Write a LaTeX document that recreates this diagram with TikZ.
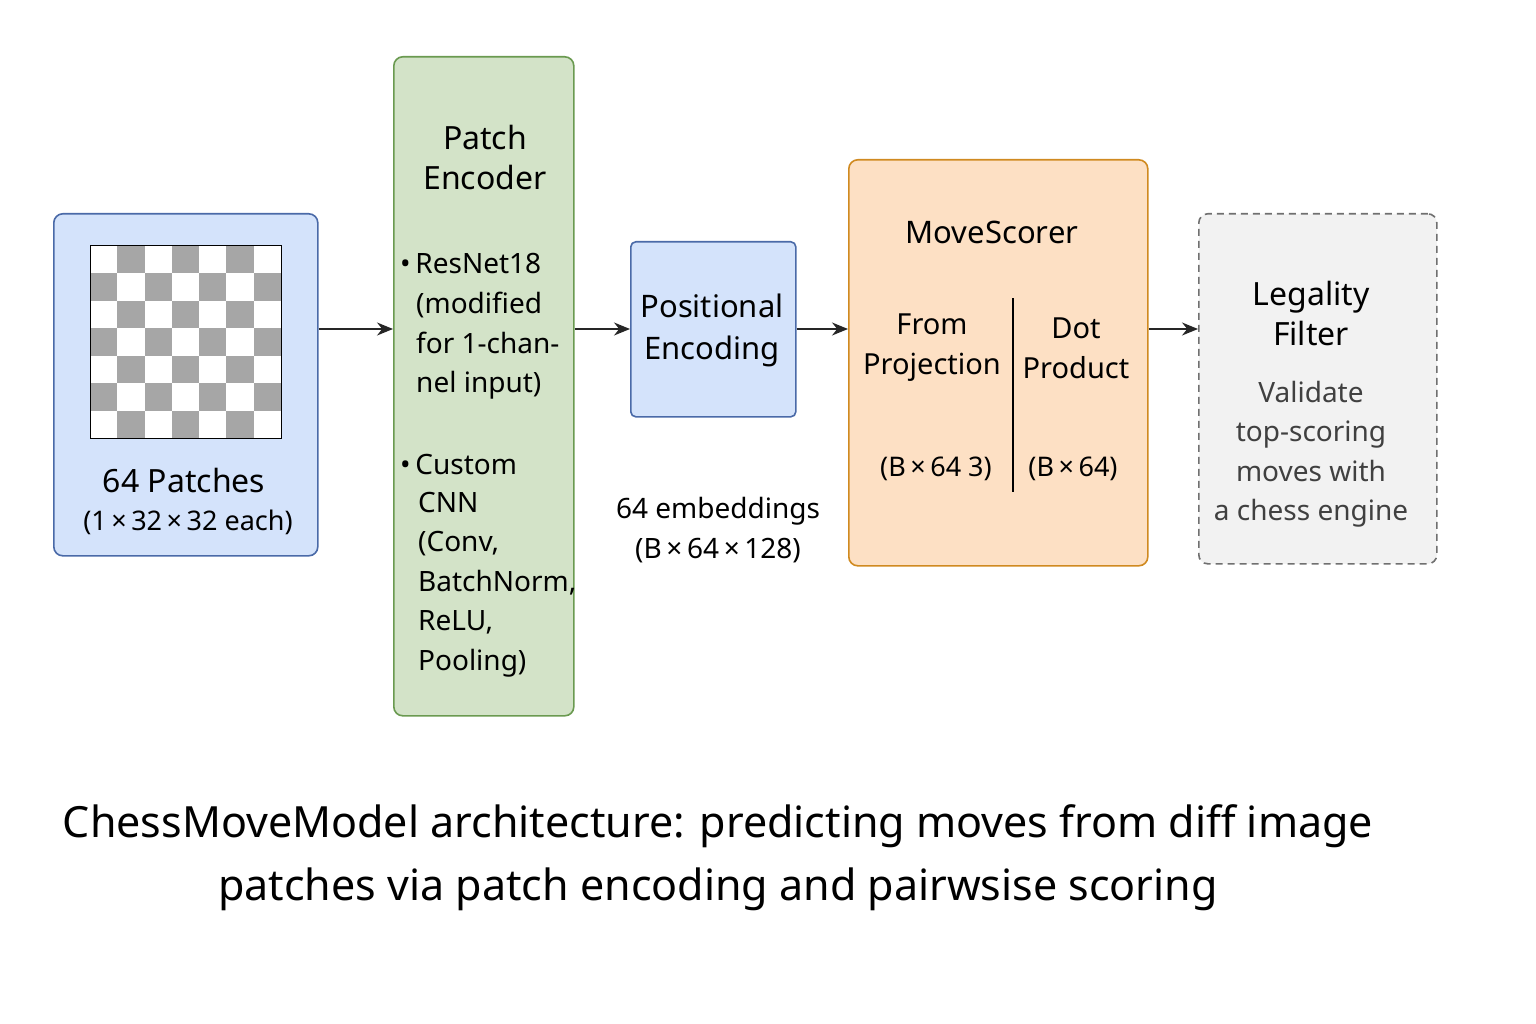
\documentclass[tikz,border=0pt]{standalone}
\usepackage{fontspec}
\setmainfont{Noto Sans}
\usetikzlibrary{arrows.meta}
\definecolor{bfill}{HTML}{D4E3FB}\definecolor{bdraw}{HTML}{4A6AA8}
\definecolor{gfill}{HTML}{D3E3C8}\definecolor{gdraw}{HTML}{6A9A50}
\definecolor{ofill}{HTML}{FDE0C4}\definecolor{odraw}{HTML}{D08A20}
\definecolor{lfill}{HTML}{F2F2F2}\definecolor{ldraw}{HTML}{707070}
\definecolor{sq}{HTML}{A6A6A6}
\begin{document}
\begin{tikzpicture}[x=1pt,y=-1pt,
 box/.style={rounded corners=9pt,line width=1.6pt},
 arr/.style={-{Stealth[length=16pt,width=13pt]},line width=1.6pt,draw=black!85},
 t/.style={font=\fontsize{31}{37}\selectfont,align=center,inner sep=0pt},
 s/.style={font=\fontsize{28}{39.5}\selectfont,align=left,inner sep=0pt,anchor=north west}]
\useasboundingbox (0,0) rectangle (1536,1024);
\fill[white] (0,0) rectangle (1536,1024);
\node[box,draw=bdraw,fill=bfill,minimum width=264pt,minimum height=342pt,anchor=north west] (p) at (53,213) {};
\node[box,draw=gdraw,fill=gfill,minimum width=180pt,minimum height=659pt,anchor=north west] (e) at (393,56) {};
\node[box,draw=bdraw,fill=bfill,minimum width=165pt,minimum height=175pt,anchor=north west,rounded corners=5pt] (pe) at (630,241) {};
\node[box,draw=odraw,fill=ofill,minimum width=299pt,minimum height=406pt,anchor=north west] (m) at (848,159) {};
\node[box,draw=ldraw,fill=lfill,dashed,dash pattern=on 7pt off 5pt,minimum width=238pt,minimum height=350pt,anchor=north west] (l) at (1198,213) {};
\coordinate (y0) at (0,329);
% checkerboard
\fill[white] (90,246) rectangle (281,438);
\foreach \i in {0,...,6}{\foreach \j in {0,...,6}{
 \pgfmathtruncatemacro\k{mod(\i+\j,2)}
 \ifnum\k=1 \fill[sq] ({90+\i*191/7},{246+\j*192/7}) rectangle ++(191/7,192/7);\fi}}
\draw[line width=1pt] (90,246) rectangle (281,438);
\node[t,font=\fontsize{32}{36}\selectfont] (pt) at (184,480) {64 Patches};
\node[t,font=\fontsize{27}{30}\selectfont] (pt2) at (188,522) {(1\,×\,32\,×\,32 each)};
\node[t,font=\fontsize{32}{40}\selectfont] (et) at (485,158) {Patch\\Encoder};
\node[s] (b1) at (400,253) {•\,ResNet18};
\node[s] (b1b) at (416,292) {(modified\\for 1-chan-\\nel input)};
\node[s] (b2) at (400,454) {•\,Custom};
\node[s] (b2b) at (418,492) {CNN\\(Conv,\\BatchNorm,\\ReLU,\\Pooling)};
\node[t,font=\fontsize{31}{42}\selectfont] (pet) at (712,330) {Positional\\Encoding};
\node[t,font=\fontsize{28}{40}\selectfont] (emb) at (718,530) {64 embeddings\\(B\,×\,64\,×\,128)};
\node[t] (mt) at (992,232) {MoveScorer};
\node[t,font=\fontsize{29}{40}\selectfont] (fp) at (932,348) {From\\Projection};
\node[t,font=\fontsize{29}{40}\selectfont] (dp) at (1076,348) {Dot\\Product};
\node[t,font=\fontsize{27}{30}\selectfont] (f1) at (936,469) {(B\,×\,64 3)};
\node[t,font=\fontsize{27}{30}\selectfont] (f2) at (1073,469) {(B\,×\,64)};
\draw[line width=1.2pt] (1013,298) -- (1013,492);
\node[t,font=\fontsize{32}{40}\selectfont] (lt) at (1311,313) {Legality\\Filter};
\node[t,font=\fontsize{28}{39.5}\selectfont,text=black!75] (lv) at (1311,454) {Validate\\top-scoring\\moves with\\a chess engine};
\node[t,font=\fontsize{43}{63}\selectfont] (cap) at (718,858) {ChessMoveModel architecture: predicting moves from diff image\\patches via patch encoding and pairwsise scoring};
\draw[arr] (p.east|-y0) -- (e.west|-y0);
\draw[arr] (e.east|-y0) -- (pe.west|-y0);
\draw[arr] (pe.east|-y0) -- (m.west|-y0);
\draw[arr] (m.east|-y0) -- (l.west|-y0);
\end{tikzpicture}
\end{document}
